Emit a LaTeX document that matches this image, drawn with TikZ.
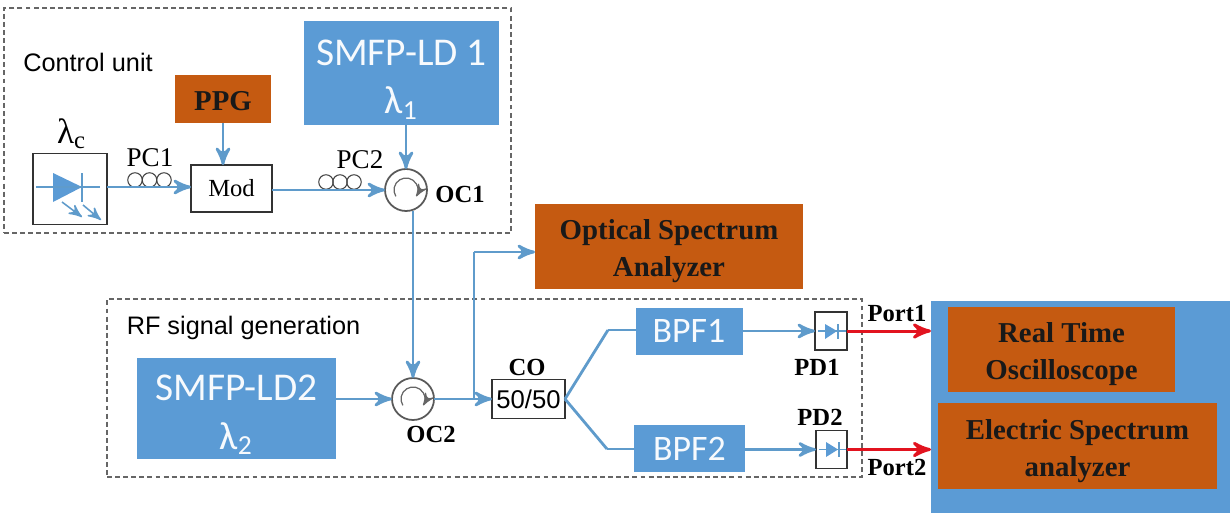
\documentclass[tikz,border=0pt]{standalone}
\usepackage{fontspec}
\usepackage{tkz-graph}
\usetikzlibrary{arrows}
\usetikzlibrary{shapes}
\setmainfont{Liberation Serif}
\setsansfont{Liberation Sans}
\newfontfamily\calfont{Carlito}
\definecolor{boxblue}{HTML}{5B9BD5}
\definecolor{boxbrown}{HTML}{C55A11}
\definecolor{lineblue}{HTML}{5F9BCB}
\definecolor{portred}{HTML}{E2131F}

\begin{document}
\begin{tikzpicture}[font=\rmfamily]
	\useasboundingbox (0,0) rectangle (12.30,5.13);
	\tikzstyle{VertexStyle} = []
	\tikzstyle{EdgeStyle} = []
	\tikzstyle{plainStyle}=[shape = rectangle, inner sep = 0pt]
	\tikzstyle{dashStyle}=[plainStyle, draw = black!60, dash pattern = on 1.4pt off 0.9pt, line width = 0.3pt]
	\tikzstyle{blueStyle}=[plainStyle, fill = boxblue, text = white!95!boxblue, align = center, font = \calfont\fontsize{11.2}{13.7}\selectfont]
	\tikzstyle{filterStyle}=[plainStyle, fill = boxblue, text = white!95!boxblue, font = \calfont\fontsize{10.2}{12}\selectfont]
	\tikzstyle{brownStyle}=[plainStyle, fill = boxbrown, text = black!90, align = center, font = \bfseries\fontsize{8.2}{10.5}\selectfont]
	\tikzstyle{whiteStyle}=[plainStyle, fill = white, draw = black!80, line width = 0.45pt, font = \fontsize{7}{9}\selectfont]
	\tikzstyle{ratioStyle}=[whiteStyle, font = \sffamily\fontsize{7.3}{9}\selectfont]
	\tikzstyle{circStyle}=[shape = circle, inner sep = 0pt, minimum size = 0.42cm, fill = white, draw = black!65, line width = 0.5pt]
	\tikzstyle{coilStyle}=[shape = circle, inner sep = 0pt, minimum size = 0.145cm, draw = black!75, line width = 0.3pt]
	\tikzstyle{sansStyle}=[plainStyle, font = \sffamily\fontsize{7.2}{9}\selectfont]
	\tikzstyle{tagStyle}=[plainStyle, font = \fontsize{7.7}{9}\selectfont]
	\tikzstyle{lambdaStyle}=[plainStyle, font = \fontsize{10}{12}\selectfont]
	\tikzstyle{boldStyle}=[plainStyle, font = \bfseries\fontsize{7}{9}\selectfont]
	\tikzstyle{wireStyle}=[draw = lineblue, line width = 0.8pt]
	\tikzstyle{arrowStyle}=[wireStyle, -stealth']
	\tikzstyle{thinStyle}=[draw = lineblue, line width = 0.45pt, -stealth']
	\tikzstyle{redStyle}=[draw = portred, line width = 0.85pt, -stealth']
	\Vertex[style = {dashStyle, minimum width = 5.07cm, minimum height = 2.25cm}, x = 2.575, y = 3.925, NoLabel]{ctrl}
	\Vertex[style = {dashStyle, minimum width = 7.55cm, minimum height = 1.78cm}, x = 4.845, y = 1.25, NoLabel]{rf}
	\Vertex[style = sansStyle, x = 0.88, y = 4.51, L = {Control unit}]{t0}
	\Vertex[style = sansStyle, x = 2.435, y = 1.85, L = {RF signal generation}]{t1}
	\Vertex[style = {blueStyle, minimum width = 1.95cm, minimum height = 1.04cm}, x = 4.015, y = 4.40, L = {\rule{0pt}{11pt}SMFP-LD 1\\λ\textsubscript{1}}]{ld1}
	\Vertex[style = {blueStyle, minimum width = 1.99cm, minimum height = 1.01cm}, x = 2.365, y = 1.045, L = {\rule{0pt}{11pt}SMFP-LD2\\λ\textsubscript{2}}]{ld2}
	\Vertex[style = {brownStyle, minimum width = 0.96cm, minimum height = 0.48cm}, x = 2.23, y = 4.14, L = {\rule{0pt}{6.8pt}PPG}]{ppg}
	\Vertex[style = {brownStyle, minimum width = 2.68cm, minimum height = 0.85cm}, x = 6.69, y = 2.665, L = {\rule{0pt}{8.5pt}Optical Spectrum\\Analyzer}]{osa}
	\Vertex[style = {plainStyle, fill = boxblue, minimum width = 2.99cm, minimum height = 2.12cm}, x = 10.805, y = 1.06, NoLabel]{inst}
	\Vertex[style = {brownStyle, minimum width = 2.27cm, minimum height = 0.85cm}, x = 10.615, y = 1.635, L = {\rule{0pt}{8.5pt}Real Time\\Oscilloscope}]{rto}
	\Vertex[style = {brownStyle, minimum width = 2.79cm, minimum height = 0.86cm}, x = 10.775, y = 0.67, L = {\rule{0pt}{8.5pt}Electric Spectrum\\analyzer}]{esa}
	\Vertex[style = {whiteStyle, minimum width = 0.74cm, minimum height = 0.71cm}, x = 0.70, y = 3.24, NoLabel]{laser}
	\Vertex[style = {whiteStyle, minimum width = 0.81cm, minimum height = 0.47cm}, x = 2.315, y = 3.245, L = {Mod}]{mod}
	\Vertex[style = {ratioStyle, minimum width = 0.73cm, minimum height = 0.39cm}, x = 5.285, y = 1.14, L = {50/50}]{co}
	\Vertex[style = {filterStyle, minimum width = 1.07cm, minimum height = 0.47cm}, x = 6.89, y = 1.82, L = {BPF1}]{bpf1}
	\Vertex[style = {filterStyle, minimum width = 1.11cm, minimum height = 0.47cm}, x = 6.895, y = 0.645, L = {BPF2}]{bpf2}
	\Vertex[style = {whiteStyle, minimum width = 0.32cm, minimum height = 0.38cm}, x = 8.31, y = 1.82, NoLabel]{pd1}
	\Vertex[style = {whiteStyle, minimum width = 0.31cm, minimum height = 0.38cm}, x = 8.315, y = 0.635, NoLabel]{pd2}
	\Vertex[style = circStyle, x = 4.06, y = 3.23, NoLabel]{oc1}
	\Vertex[style = circStyle, x = 4.13, y = 1.14, NoLabel]{oc2}
	\Vertex[style = lambdaStyle, x = 0.72, y = 3.79, L = {λ\textsubscript{c}}]{t2}
	\Vertex[style = tagStyle, x = 1.50, y = 3.55, L = {PC1}]{t3}
	\Vertex[style = tagStyle, x = 3.60, y = 3.53, L = {PC2}]{t4}
	\Vertex[style = boldStyle, x = 4.60, y = 3.19, L = {OC1}]{t5}
	\Vertex[style = boldStyle, x = 4.31, y = 0.79, L = {OC2}]{t6}
	\Vertex[style = boldStyle, x = 5.27, y = 1.46, L = {CO}]{t7}
	\Vertex[style = boldStyle, x = 8.17, y = 1.46, L = {PD1}]{t8}
	\Vertex[style = boldStyle, x = 8.20, y = 0.96, L = {PD2}]{t9}
	\Vertex[style = boldStyle, x = 8.97, y = 2.00, L = {Port1}]{t10}
	\Vertex[style = boldStyle, x = 8.97, y = 0.46, L = {Port2}]{t11}
	\Vertex[style = coilStyle, x = 1.35, y = 3.33, NoLabel]{c1}
	\Vertex[style = coilStyle, x = 1.495, y = 3.33, NoLabel]{c2}
	\Vertex[style = coilStyle, x = 1.64, y = 3.33, NoLabel]{c3}
	\Vertex[style = coilStyle, x = 3.26, y = 3.31, NoLabel]{c4}
	\Vertex[style = coilStyle, x = 3.40, y = 3.31, NoLabel]{c5}
	\Vertex[style = coilStyle, x = 3.54, y = 3.31, NoLabel]{c6}
	\coordinate (d1) at (1.07,3.26);
	\coordinate (j1) at (4.74,1.14);
	\coordinate (j2) at (4.74,2.61);
	\coordinate (b1) at (6.08,1.83);
	\coordinate (b2) at (6.07,0.64);
	\coordinate (e1) at (0.62,3.11);
	\coordinate (e2) at (0.82,2.96);
	\coordinate (e3) at (0.83,3.08);
	\coordinate (e4) at (1.01,2.93);
	\Edge[style = arrowStyle](d1)(mod.west |- d1)
	\Edge[style = arrowStyle](ppg)(ppg |- mod.north)
	\Edge[style = arrowStyle](mod.east |- oc1)(oc1)
	\Edge[style = arrowStyle](oc1 |- ld1.south)(oc1)
	\Edge[style = arrowStyle](oc2 |- oc1.south)(oc2)
	\Edge[style = arrowStyle](ld2.east |- oc2)(oc2)
	\Edge[style = arrowStyle](oc2)(co)
	\Edge[style = wireStyle](j1)(j2)
	\Edge[style = arrowStyle](j2)(j2 -| osa.west)
	\Edge[style = wireStyle](co.east)(b1)
	\Edge[style = wireStyle](b1)(bpf1.west |- b1)
	\Edge[style = wireStyle](co.east)(b2)
	\Edge[style = wireStyle](b2)(bpf2.west |- b2)
	\Edge[style = arrowStyle](bpf1)(pd1)
	\Edge[style = arrowStyle](bpf2.east |- pd2)(pd2)
	\Edge[style = redStyle](pd1)(inst.west |- pd1)
	\Edge[style = redStyle](pd2)(inst.west |- pd2)
	\Edge[style = thinStyle](e1)(e2)
	\Edge[style = thinStyle](e3)(e4)
	\fill[boxblue] (0.53,3.40) -- (0.82,3.26) -- (0.53,3.11) -- cycle;
	\draw[lineblue, line width = 0.3pt] (0.36,3.26) -- (1.00,3.26) (0.82,3.40) -- (0.82,3.11);
	\fill[boxblue] (8.25,1.89) -- (8.37,1.82) -- (8.25,1.74) -- cycle;
	\draw[lineblue, line width = 0.3pt] (8.18,1.82) -- (8.46,1.82) (8.38,1.89) -- (8.38,1.74);
	\fill[boxblue] (8.26,0.71) -- (8.38,0.635) -- (8.26,0.56) -- cycle;
	\draw[lineblue, line width = 0.3pt] (8.19,0.635) -- (8.46,0.635) (8.39,0.71) -- (8.39,0.56);
	\draw[black!60, line width = 0.35pt, -stealth'] ([shift = {(212:0.12)}]oc1.center) arc[start angle = 212, end angle = -32, radius = 0.12];
	\draw[black!60, line width = 0.35pt, -stealth'] ([shift = {(212:0.12)}]oc2.center) arc[start angle = 212, end angle = -32, radius = 0.12];
	\end{tikzpicture}
\end{document}
